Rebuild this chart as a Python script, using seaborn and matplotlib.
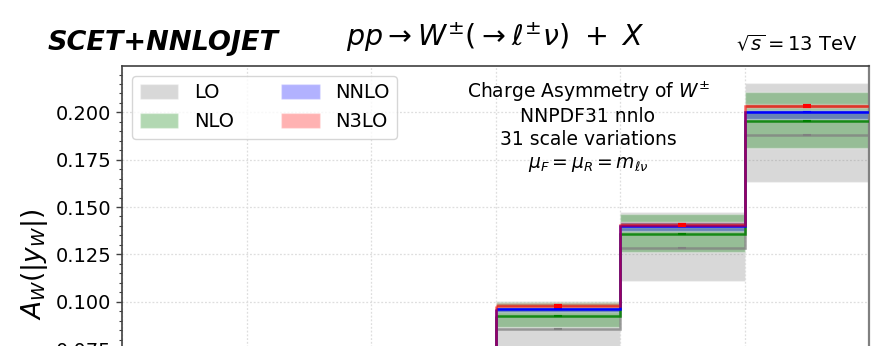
import numpy as np
import matplotlib
matplotlib.use("Agg")
import matplotlib.pyplot as plt
from matplotlib.ticker import MultipleLocator, FormatStrFormatter
import seaborn as sns

# |y_W| binning of the full distribution and the bins drawn here
bin_edges = [0.0, 0.4, 0.8, 1.2, 1.6, 2.0, 2.4]
bins_low = [1.2, 1.6, 2.0]
bins_high = [1.6, 2.0, 2.4]

# central values and scale-variation envelopes per perturbative order
lo_central = [0.0858, 0.1282, 0.1882]
lo_down = [0.0700, 0.1111, 0.1631]
lo_up = [0.1005, 0.1475, 0.2155]

nlo_central = [0.0926, 0.1358, 0.1956]
nlo_down = [0.0866, 0.1261, 0.1814]
nlo_up = [0.0998, 0.1463, 0.2109]

nnlo_central = [0.0961, 0.1398, 0.2001]
nnlo_down = [0.0944, 0.1375, 0.1965]
nnlo_up = [0.0970, 0.1423, 0.2014]

n3lo_central = [0.0979, 0.1405, 0.2032]
n3lo_down = [0.0970, 0.1393, 0.2022]
n3lo_up = [0.0993, 0.1419, 0.2044]

order_names = ["LO", "NLO", "NNLO", "N3LO"]
order_colors = ["gray", "green", "blue", "red"]

sns.set_style("ticks")
plt.rcParams["font.family"] = ["DejaVu Sans"]
plt.rcParams["mathtext.fontset"] = "dejavusans"
plt.rcParams["text.color"] = "black"
plt.rcParams["axes.labelcolor"] = "black"
plt.rcParams["ytick.labelcolor"] = "black"

W, H, DPI = 873, 346, 100
fig = plt.figure(figsize=(W / DPI, H / DPI), dpi=DPI)

ymin, ymax = 0.015, 0.2245
px_per_unit = 1893.0
top_px = 66.0
bottom_px = top_px + (ymax - ymin) * px_per_unit
left_px, right_px = 122.0, 869.0
ax = fig.add_axes([left_px / W, (H - bottom_px) / H,
                   (right_px - left_px) / W, (bottom_px - top_px) / H])

edges = np.array(bins_low + [bins_high[-1]])
centers = 0.5 * (np.array(bins_low) + np.array(bins_high))

centrals = [lo_central, nlo_central, nnlo_central, n3lo_central]
downs = [lo_down, nlo_down, nnlo_down, n3lo_down]
ups = [lo_up, nlo_up, nnlo_up, n3lo_up]

# scale-variation bands
for name, col, d, u in zip(order_names, order_colors, downs, ups):
    ax.stairs(u, edges, baseline=d, fill=True, color=col, alpha=0.3,
              lw=1.0, label=name, zorder=2)

# central predictions as step lines, entering from the lower bins on the left
line_alpha = {"gray": 0.75, "green": 0.85, "blue": 1.0, "red": 0.6}
for col, c in zip(order_colors, centrals):
    ax.stairs(c, edges, baseline=None, color=col, lw=1.8,
              alpha=line_alpha[col], zorder=3)
    ax.vlines(edges[0], ymin, c[0], color=col, lw=1.8,
              alpha=line_alpha[col], zorder=3)

# bin-centre markers
for col, c in zip(order_colors, centrals):
    thick = 3.0 if col == "red" else 1.5
    sns.scatterplot(x=centers, y=c, marker="_", s=30, linewidth=thick,
                    color=col, legend=False, ax=ax, zorder=4)

ax.set_xlim(bin_edges[0], bin_edges[-1])
ax.set_ylim(ymin, ymax)
ax.set_xticks(bin_edges)
ax.tick_params(axis="x", labelbottom=False, bottom=False)
ax.yaxis.set_major_locator(MultipleLocator(0.025))
ax.yaxis.set_minor_locator(MultipleLocator(0.005))
ax.yaxis.set_major_formatter(FormatStrFormatter("%.3f"))
ax.tick_params(axis="y", which="major", length=4, width=1.0, labelsize=14,
               direction="out", color="0.25", labelcolor="black")
ax.tick_params(axis="y", which="minor", length=2.3, width=0.8,
               direction="out", color="0.25")
ax.grid(True, which="major", linestyle=(0, (1.5, 1.5)), color="0.87", lw=0.9)
ax.set_axisbelow(True)
for side in ["left", "top", "bottom"]:
    ax.spines[side].set_color("0.25")
    ax.spines[side].set_linewidth(1.2)
ax.spines["right"].set_color("0.5")
ax.spines["right"].set_linewidth(1.6)

ax.set_ylabel(r"$A_W(|y_W|)$", fontsize=19, labelpad=4, color="black")

leg = ax.legend(loc="upper left", ncol=2, fontsize=14, frameon=True,
                fancybox=True, framealpha=0.8, edgecolor="0.8",
                handleheight=0.8, columnspacing=2.4)
for t in leg.get_texts():
    t.set_color("black")

# annotation block
info_lines = [r"Charge Asymmetry of $W^{\pm}$", "NNPDF31 nnlo",
              "31 scale variations", r"$\mu_F = \mu_R = m_{\ell\nu}$"]
for i, line in enumerate(info_lines):
    fig.text(588 / W, 1 - (98.5 + 23.2 * i) / H, line, fontsize=13.5,
             ha="center", va="baseline")

fig.text(48 / W, 1 - 50 / H, "SCET+NNLOJET", fontsize=19.5,
         fontweight="bold", style="italic", ha="left", va="baseline")
fig.text(495 / W, 1 - 46 / H,
         r"$pp \rightarrow W^{\pm}(\rightarrow \ell^{\pm}\nu)\ +\ X$",
         fontsize=20.5, ha="center", va="baseline")
fig.text(857 / W, 1 - 50 / H, r"$\sqrt{s}=13$ TeV", fontsize=14,
         ha="right", va="baseline")

fig.savefig("out.png", dpi=DPI)
